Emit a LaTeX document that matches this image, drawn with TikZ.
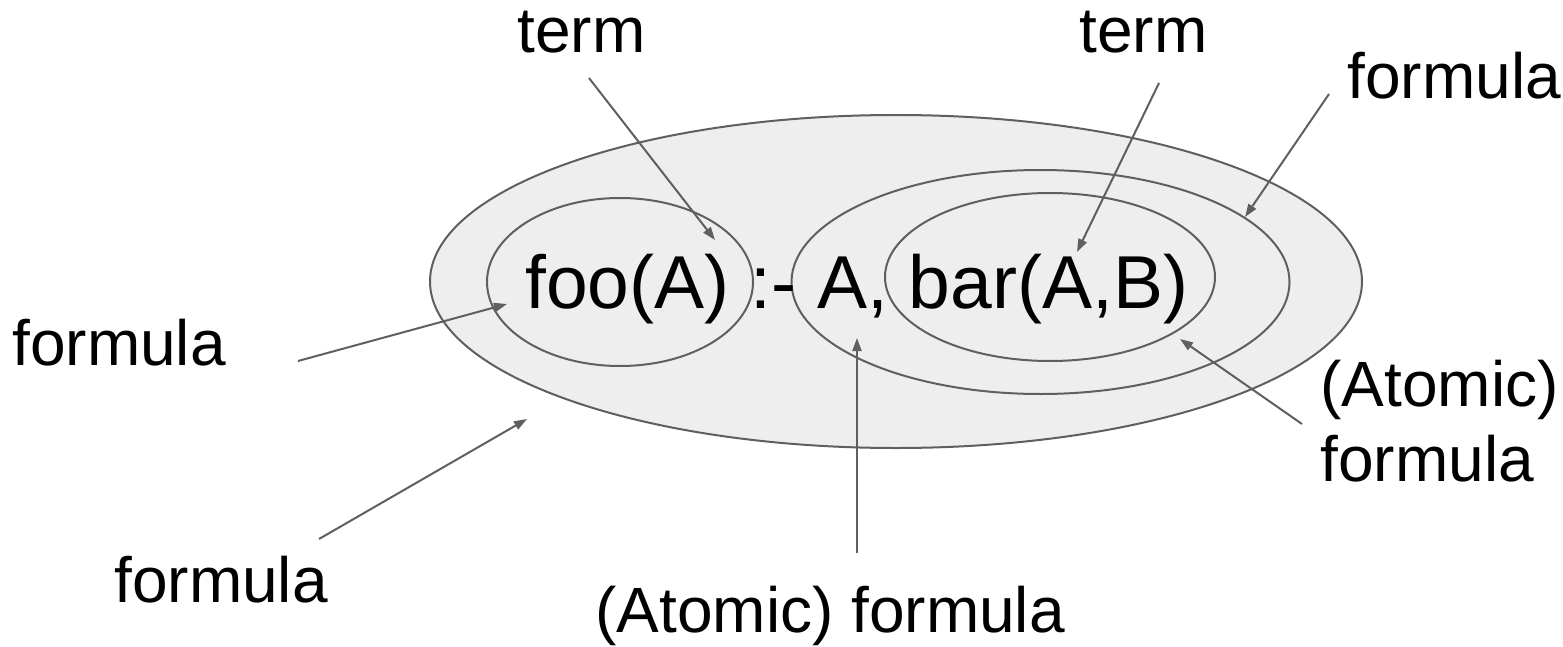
\documentclass[tikz,border=0pt]{standalone}
\usepackage{fontspec}
\setmainfont{Liberation Sans}
\usetikzlibrary{arrows.meta,shapes.geometric}
\definecolor{linegray}{RGB}{95,95,95}
\definecolor{fillgray}{RGB}{238,238,238}
\begin{document}
\begin{tikzpicture}[x=0.5pt,y=-0.5pt,
  ell/.style={ellipse,draw=linegray,fill=fillgray,line width=1pt,inner sep=0pt},
  lbl/.style={inner sep=0pt,font=\fontsize{32}{37.5}\selectfont,text=black},
  mainlbl/.style={inner sep=0pt,font=\fontsize{37.5}{44}\selectfont,text=black},
  arr/.style={draw=linegray,line width=1pt,-{Triangle[length=6.5pt,width=4.5pt]}}]
\useasboundingbox (0,0) rectangle (1563,647);
% ellipses
\node[ell,minimum width=466pt,minimum height=166.5pt] (outer) at (896,281.5) {};
\node[ell,minimum width=133pt,minimum height=84pt] (fooell) at (620,282) {};
\node[ell,minimum width=249pt,minimum height=112pt] (midell) at (1040.5,282) {};
\node[ell,minimum width=165pt,minimum height=84pt] (barell) at (1050,277) {};
% main text
\node[mainlbl,anchor=base west] (clause) at (525,308) {foo(A) :- A, bar(A,B)};
% labels
\node[lbl,anchor=base west] (termL) at (517,53) {term};
\node[lbl,anchor=base west] (termR) at (1079,53) {term};
\node[lbl,anchor=base west] (formTR) at (1347,98) {formula};
\node[lbl,anchor=base west] (formL) at (12,365) {formula};
\node[lbl,anchor=base west] (formBL) at (114,602) {formula};
\node[lbl,anchor=base west] (atomB) at (595,632) {(Atomic) formula};
\node[lbl,anchor=north west,align=left] (atomR) at (1320,360) {(Atomic)\\formula};
% arrow end points
\coordinate (s1) at (589,78);   \coordinate (e1) at (715,240);
\coordinate (s2) at (1159,83);  \coordinate (e2) at (1077,252);
\coordinate (s3) at (1329,94);  \coordinate (e3) at (1245,217);
\coordinate (s4) at (298,361);  \coordinate (e4) at (507,304);
\coordinate (s5) at (319,539);  \coordinate (e5) at (527,419);
\coordinate (s6) at (857,553);  \coordinate (e6) at (857,338);
\coordinate (s7) at (1302,424); \coordinate (e7) at (1180,339);
\draw[arr] (s1) -- (e1);
\draw[arr] (s2) -- (e2);
\draw[arr] (s3) -- (e3);
\draw[arr] (s4) -- (e4);
\draw[arr] (s5) -- (e5);
\draw[arr] (s6) -- (e6);
\draw[arr] (s7) -- (e7);
\end{tikzpicture}
\end{document}
